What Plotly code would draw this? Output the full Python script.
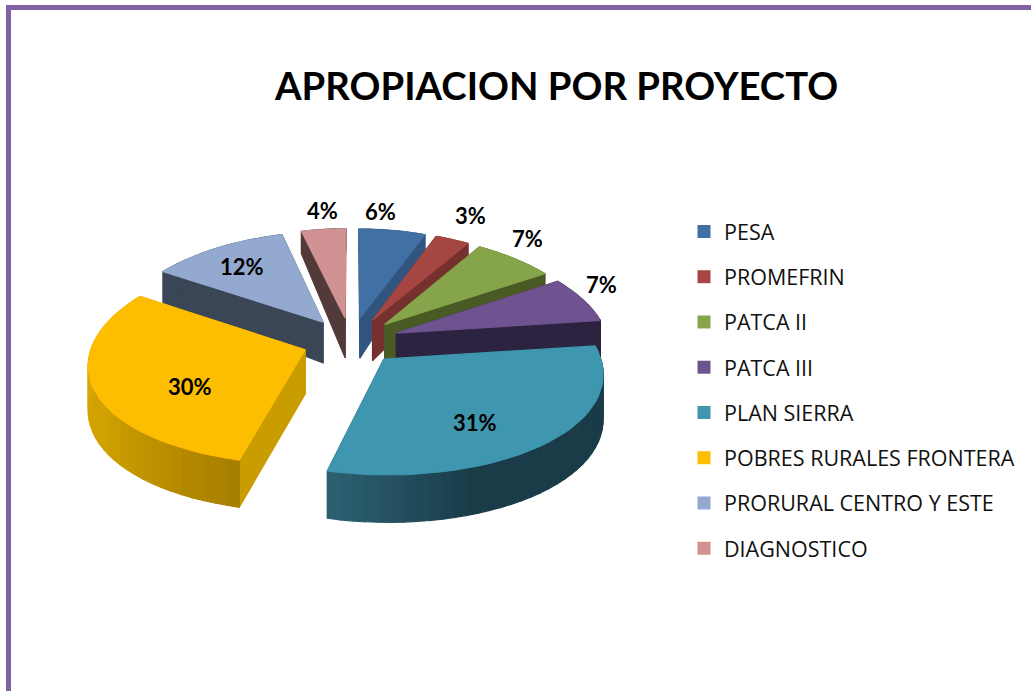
import numpy as np
import plotly.graph_objects as go

TITLE = "APROPIACION POR PROYECTO"
categories = ["PESA", "PROMEFRIN", "PATCA II", "PATCA III", "PLAN SIERRA",
              "POBRES RURALES FRONTERA", "PRORURAL CENTRO Y ESTE", "DIAGNOSTICO"]
shares = [6, 3, 7, 7, 31, 30, 12, 4]

top_colors = ["#4170A5", "#A54643", "#86A44A", "#6F5390", "#3F96AF", "#FDBD00", "#93A9CF", "#D09292"]
cut_colors = ["#31557F", "#76302E", "#4A5A24", "#2C2340", "#1A3B48", "#C99C00", "#3A4556", "#533A3A"]
wall_stops = [
    [(0, "#31557F"), (1, "#31557F")],
    [(0, "#76302E"), (1, "#76302E")],
    [(0, "#4A5A24"), (1, "#4A5A24")],
    [(0, "#2C2340"), (1, "#2C2340")],
    [(0, "#1A3B48"), (0.68, "#1A3B48"), (1, "#2D6273")],
    [(0, "#A67E00"), (0.4, "#CFA000"), (1, "#E2AE00")],
    [(0, "#3A4556"), (1, "#3A4556")],
    [(0, "#533A3A"), (1, "#533A3A")],
]
# label placement in page pixels
label_x = [380, 470, 527, 601, 475, 190, 242, 322]
label_y = [211, 215, 238, 284, 422, 386, 266, 210]

# projection of the tilted, exploded disc
CX, CY = 351, 341
EXPLODE = 0.23


def top_xy(X, Y):
    return CX + (212 - 28 * Y) * X, CY - 103 * Y + 9.5 * Y * Y


def depth(Y):
    return 44 - 18 * Y if Y > 0 else 44 - 3 * Y


def hexrgb(c):
    return np.array([int(c[i:i + 2], 16) for i in (1, 3, 5)], float)


def mix(stops, t):
    for (t0, c0), (t1, c1) in zip(stops, stops[1:]):
        if t <= t1:
            f = (t - t0) / (t1 - t0)
            v = hexrgb(c0) * (1 - f) + hexrgb(c1) * f
            return "rgb(%d,%d,%d)" % tuple(v)
    return stops[-1][1]


def poly(xs, ys, color):
    return go.Scatter(x=list(xs) + [xs[0]], y=list(ys) + [ys[0]], mode="lines", fill="toself",
                      fillcolor=color, line=dict(color=color, width=1.2),
                      hoverinfo="skip", showlegend=False)


fig = go.Figure()

bounds = np.cumsum([0] + shares) / sum(shares) * 2 * np.pi
slices = []
for i in range(len(shares)):
    a0, a1 = bounds[i], bounds[i + 1]
    m = (a0 + a1) / 2
    slices.append((EXPLODE * np.cos(m), i, a0, a1, EXPLODE * np.sin(m)))
slices.sort(key=lambda s: -s[0])

for oy, i, a0, a1, ox in slices:
    n = max(4, int((a1 - a0) / np.radians(3)))
    th = np.linspace(a0, a1, n + 1)
    WX, WY = ox + np.sin(th), oy + np.cos(th)
    sx, sy = top_xy(WX, WY)
    bx, by = sx, sy + np.array([depth(v) for v in WY])
    ax, ay = top_xy(ox, oy)
    ab = ay + depth(oy)
    # the two cut faces
    fig.add_trace(poly([ax, sx[0], bx[0], ax], [ay, sy[0], by[0], ab], cut_colors[i]))
    fig.add_trace(poly([ax, sx[-1], bx[-1], ax], [ay, sy[-1], by[-1], ab], cut_colors[i]))
    # outer wall, one band per step for the shading
    for k in range(n):
        col = mix(wall_stops[i], (k + 0.5) / n)
        fig.add_trace(poly([sx[k], sx[k + 1], bx[k + 1], bx[k]],
                           [sy[k], sy[k + 1], by[k + 1], by[k]], col))
    # top face
    fig.add_trace(poly([ax] + list(sx), [ay] + list(sy), top_colors[i]))

# legend entries
for name, c in zip(categories, top_colors):
    fig.add_trace(go.Scatter(x=[None], y=[None], mode="markers", name=name, legendgroup=name,
                             marker=dict(symbol="square", size=13, color=c), hoverinfo="skip"))

annotations = [dict(x=x, y=y, text=f"<b>{v}%</b>", showarrow=False, xref="x", yref="y",
                    font=dict(family="Lato", size=22, color="#000000"))
               for x, y, v in zip(label_x, label_y, shares)]
annotations.append(dict(x=556, y=85, text=f"<b>{TITLE}</b>", showarrow=False, xref="x", yref="y",
                        font=dict(family="Lato", size=38.3, color="#000000")))

fig.update_layout(
    width=1031, height=691, margin=dict(l=0, r=0, t=0, b=0),
    paper_bgcolor="#FFFFFF", plot_bgcolor="#FFFFFF",
    xaxis=dict(range=[0, 1031], visible=False, fixedrange=True),
    yaxis=dict(range=[691, 0], visible=False, fixedrange=True),
    showlegend=True,
    legend=dict(x=684 / 1031, y=1 - 211 / 691, xanchor="left", yanchor="top",
                font=dict(family="Open Sans", size=21.5, color="#111111"),
                tracegroupgap=14.3, traceorder="grouped", bgcolor="rgba(0,0,0,0)",
                borderwidth=0, itemclick=False, itemdoubleclick=False),
    shapes=[dict(type="rect", xref="x", yref="y", x0=8.5, y0=7.5, x1=1100, y1=760,
                 line=dict(color="#8064A2", width=5), layer="below")],
    annotations=annotations,
)
fig.write_html("out.html", config=dict(displayModeBar=False),
               post_script="document.body.style.margin='0';")
